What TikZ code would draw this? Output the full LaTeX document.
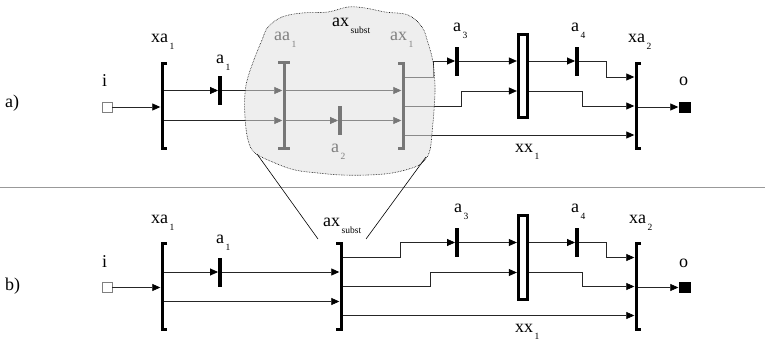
\documentclass[tikz,border=0pt]{standalone}
\usepackage{fontspec}
\setmainfont{Liberation Serif}
\usetikzlibrary{arrows.meta,calc}
\definecolor{wiregray}{HTML}{262626}
\definecolor{blobgray}{HTML}{EEEEEE}
\definecolor{subgray}{HTML}{808080}
\definecolor{sepgray}{HTML}{999999}
\newcommand{\sublbl}[2]{#1\kern1.5pt\raisebox{-7pt}{\fontsize{9.5}{10}\selectfont #2}}

\begin{document}
\begin{tikzpicture}[x=1pt,y=-1pt,
  wire/.style={draw=wiregray,line width=0.7pt},
  conn/.style={wire,-{Triangle[length=8pt,width=7pt,color=black]}},
  tbar/.style={rectangle,fill=black,inner sep=0pt,minimum width=3.5pt,minimum height=29pt},
  port/.style={rectangle,inner sep=0pt,minimum width=3pt,minimum height=85pt},
  brk/.style={line width=3pt,miter limit=4},
  mux/.style={rectangle,draw=black,line width=2.8pt,fill=white,minimum width=9.5pt,
    minimum height=83.5pt,inner sep=0pt},
  inbox/.style={rectangle,draw=gray,fill=white,line width=0.8pt,minimum size=10pt,inner sep=0pt},
  outbox/.style={rectangle,fill=black,minimum width=12pt,minimum height=11pt,inner sep=0pt},
  lbl/.style={anchor=base west,inner sep=0pt,font=\fontsize{18}{20}\selectfont},
]
\useasboundingbox (0,0) rectangle (765,340);

% Separator
\draw[sepgray,line width=0.7pt] (0,187) -- (765,187);

% Panel a: substituted block
\path[save path=\blobp] plot[smooth cycle,tension=0.6] coordinates {
  (268,27) (282,17) (302,13) (328,12) (348,7) (365,8) (385,12) (408,15)
  (422,27) (428,43) (433,62) (435,87) (434,110) (432,133) (430,150)
  (425,160) (415,167) (392,173) (368,175) (342,175) (318,173) (295,170)
  (275,163) (255,153) (248,140) (245,117) (245,93) (248,77) (255,57) (262,40)};
\path[fill=blobgray,use path=\blobp];

% Panel a
\node[inbox] (ia) at (107,107) {};
\node[port] (xa1a) at (162,106) {};
\node[tbar] (a1a) at (220,90.5) {};
\node[port] (aa1) at (284,105.5) {};
\node[tbar] (a2) at (340,120.5) {};
\node[port] (ax1) at (403,106) {};
\node[tbar] (a3a) at (457,61) {};
\node[mux] (ma) at (523,76) {};
\node[tbar] (a4a) at (577,61) {};
\node[port] (xa2a) at (636,106) {};
\node[outbox] (oa) at (684.5,107) {};

\draw[brk] ([xshift=-6]aa1.north) -- ([xshift=6]aa1.north)
  (aa1.north) -- (aa1.south) ([xshift=-6]aa1.south) -- ([xshift=6]aa1.south);

\draw[conn] (ia.east) -- (ia -| xa1a.west);
\draw[conn] (xa1a.east |- a1a) -- (a1a);
\draw[conn] (a1a) -- (aa1.west |- a1a);
\draw[conn] (xa1a.east |- a2) -- (aa1.west |- a2);
\draw[conn] (aa1.east |- a1a) -- (ax1.west |- a1a);
\draw[conn] (aa1.east |- a2) -- (a2);
\draw[conn] (a2) -- (ax1.west |- a2);
\draw[conn] ([yshift=29]ax1.east) -- ++(29,0) |- (a3a);
\draw[conn] (ax1.east) -- ++(57,0) |- ([yshift=-15]ma.west);
\draw[conn] ([yshift=-29]ax1.east) -- ([yshift=-29]xa2a.west);
\draw[conn] (a3a) -- ([yshift=15]ma.west);
\draw[conn] ([yshift=15]ma.east) -- (a4a);
\draw[conn] (a4a) -- ++(29,0) |- ([yshift=29]xa2a.west);
\draw[conn] ([yshift=-15]ma.east) -- ++(53,0) |- (xa2a);
\draw[conn] (xa2a.east |- oa) -- (oa);

\foreach \n/\s in {xa1a/5,ax1/-5,xa2a/5}
  \draw[brk] ([xshift=\s]\n.north) -- (\n.north) -- (\n.south) -- ([xshift=\s]\n.south);

% fade the inside, then outline
\path[fill=blobgray,fill opacity=0.5,use path=\blobp];
\draw[densely dotted,line width=0.6pt,use path=\blobp];

\node[lbl] (la) at (5,107) {a)};
\node[lbl] (li) at (102,86) {i};
\node[lbl] (lxa1a) at (151,42) {\sublbl{xa}{1}};
\node[lbl] (la1a) at (216,63) {\sublbl{a}{1}};
\node[lbl,subgray] (laa1) at (274,40) {\sublbl{aa}{1}};
\node[lbl] (laxs) at (332,26) {\sublbl{ax}{subst}};
\node[lbl,subgray] (lax1) at (390,40) {\sublbl{ax}{1}};
\node[lbl,subgray] (la2) at (331,152) {\sublbl{a}{2}};
\node[lbl] (la3a) at (453,31) {\sublbl{a}{3}};
\node[lbl] (la4a) at (571,31) {\sublbl{a}{4}};
\node[lbl] (lxa2a) at (628,42) {\sublbl{xa}{2}};
\node[lbl] (lxx1a) at (515,152) {\sublbl{xx}{1}};
\node[lbl] (loa) at (679,85) {o};

% Panel b
\node[inbox] (ib) at (107,287.5) {};
\node[port] (xa1b) at (162,286.5) {};
\node[tbar] (a1b) at (220,272) {};
\node[port] (axs) at (341,286.5) {};
\node[tbar] (a3b) at (457,242.5) {};
\node[mux] (mb) at (523,257.5) {};
\node[tbar] (a4b) at (577,242.5) {};
\node[port] (xa2b) at (636,286.5) {};
\node[outbox] (ob) at (684.5,287.5) {};

\draw[conn] (ib.east) -- (ib -| xa1b.west);
\draw[conn] (xa1b.east |- a1b) -- (a1b);
\draw[conn] (a1b) -- (axs.west |- a1b);
\draw[conn] ([yshift=-15]xa1b.east) -- ([yshift=-15]axs.west);
\draw[conn] ([yshift=29]axs.east) -- ++(58,0) |- (a3b);
\draw[conn] (axs.east) -- ++(88,0) |- ([yshift=-15]mb.west);
\draw[conn] ([yshift=-29]axs.east) -- ([yshift=-29]xa2b.west);
\draw[conn] (a3b) -- ([yshift=15]mb.west);
\draw[conn] ([yshift=15]mb.east) -- (a4b);
\draw[conn] (a4b) -- ++(29,0) |- ([yshift=29]xa2b.west);
\draw[conn] ([yshift=-15]mb.east) -- ++(53,0) |- (xa2b);
\draw[conn] (xa2b.east |- ob) -- (ob);

\foreach \n/\s in {xa1b/5,axs/-5,xa2b/5}
  \draw[brk] ([xshift=\s]\n.north) -- (\n.north) -- (\n.south) -- ([xshift=\s]\n.south);

\node[lbl] (lb) at (5,290) {b)};
\node[lbl] (lib) at (102,267) {i};
\node[lbl] (lxa1b) at (151,223) {\sublbl{xa}{1}};
\node[lbl] (la1b) at (216,243) {\sublbl{a}{1}};
\node[lbl] (laxsb) at (323,226) {\sublbl{ax}{subst}};
\node[lbl] (la3b) at (454,212) {\sublbl{a}{3}};
\node[lbl] (la4b) at (571,212) {\sublbl{a}{4}};
\node[lbl] (lxa2b) at (629,223) {\sublbl{xa}{2}};
\node[lbl] (lxx1b) at (515,332) {\sublbl{xx}{1}};
\node[lbl] (lob) at (679,267) {o};

% zoom lines
\coordinate (zla) at (257,154);
\coordinate (zlb) at (318,239);
\coordinate (zra) at (426,157);
\coordinate (zrb) at (366,239);
\draw[line width=0.6pt] (zla) -- (zlb);
\draw[line width=0.6pt] (zra) -- (zrb);
\end{tikzpicture}
\end{document}
